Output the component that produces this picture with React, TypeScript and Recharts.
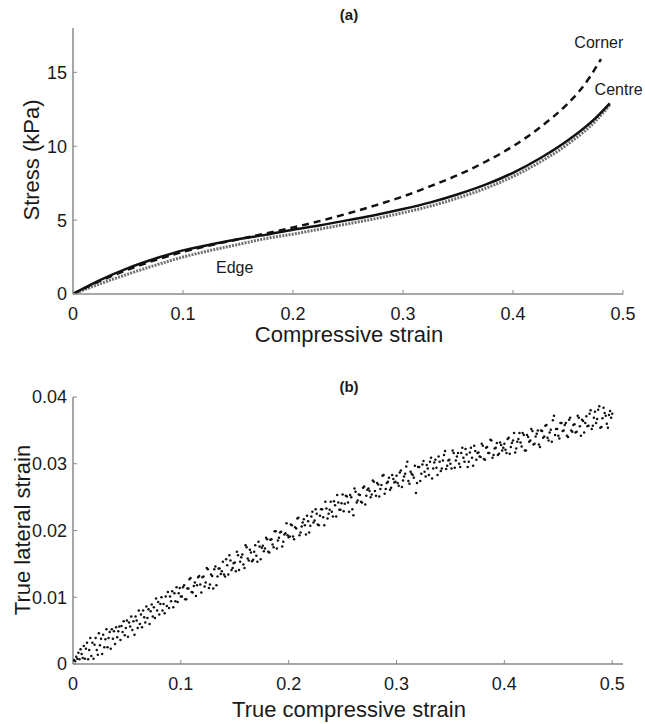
import React from 'react';
import {
  LineChart, Line, ScatterChart, Scatter, XAxis, YAxis, ReferenceDot,
} from 'recharts';

const FONT = '"Liberation Sans", Arial, Helvetica, sans-serif';

// (a) stress-strain curves
const strain = [0, 0.025, 0.05, 0.075, 0.1, 0.125, 0.15, 0.175, 0.2, 0.225, 0.25, 0.275, 0.3, 0.325, 0.35, 0.375, 0.4, 0.425, 0.45, 0.475, 0.488];
const centre = [0, 0.95, 1.75, 2.4, 2.95, 3.35, 3.7, 4.0, 4.35, 4.65, 5.0, 5.35, 5.75, 6.2, 6.75, 7.4, 8.2, 9.2, 10.4, 11.9, 12.9];
const edge = [0, 0.7, 1.35, 1.95, 2.5, 2.95, 3.35, 3.75, 4.05, 4.4, 4.75, 5.1, 5.5, 5.95, 6.5, 7.15, 7.95, 8.95, 10.15, 11.7, 12.8];
const cornerStrain = [0, 0.025, 0.05, 0.075, 0.1, 0.125, 0.15, 0.175, 0.2, 0.225, 0.25, 0.275, 0.3, 0.325, 0.35, 0.375, 0.4, 0.425, 0.45, 0.46, 0.47, 0.48];
const corner = [0, 0.9, 1.65, 2.3, 2.85, 3.3, 3.7, 4.1, 4.5, 4.95, 5.45, 6.0, 6.6, 7.3, 8.05, 8.95, 10.0, 11.3, 12.9, 13.7, 14.7, 15.9];

const xTicksA = [0, 0.1, 0.2, 0.3, 0.4, 0.5];
const yTicksA = [0, 5, 10, 15];

// (b) true compressive strain vs true lateral strain
const latA = [
  [0.001, 0.0006], [0.002, 0.0004], [0.003, 0.0011], [0.004, 0.0008], [0.005, 0.0017], [0.006, 0.0007], [0.007, 0.0022], [0.008, 0.0015], [0.009, 0.0009], [0.010, 0.0027],
  [0.011, 0.0008], [0.012, 0.0023], [0.013, 0.0032], [0.014, 0.0007], [0.015, 0.0021], [0.016, 0.0039], [0.017, 0.0012], [0.018, 0.0032], [0.019, 0.0008], [0.020, 0.0029],
  [0.021, 0.0039], [0.022, 0.0021], [0.023, 0.0014], [0.024, 0.0046], [0.025, 0.0028], [0.026, 0.0038], [0.027, 0.0015], [0.028, 0.0044], [0.029, 0.0025], [0.030, 0.0037],
  [0.031, 0.0052], [0.032, 0.0025], [0.033, 0.0039], [0.034, 0.0048], [0.035, 0.0023], [0.036, 0.0052], [0.037, 0.0038], [0.038, 0.0049], [0.039, 0.0030], [0.040, 0.0055],
  [0.041, 0.0040], [0.042, 0.0049], [0.043, 0.0056], [0.044, 0.0036], [0.045, 0.0057], [0.046, 0.0048], [0.047, 0.0064], [0.048, 0.0043], [0.049, 0.0054], [0.050, 0.0065],
  [0.051, 0.0041], [0.052, 0.0062], [0.053, 0.0056], [0.054, 0.0071], [0.055, 0.0051], [0.056, 0.0064], [0.057, 0.0044], [0.058, 0.0071], [0.059, 0.0065], [0.060, 0.0054],
  [0.061, 0.0080], [0.062, 0.0060], [0.063, 0.0074], [0.064, 0.0055], [0.065, 0.0080], [0.066, 0.0070], [0.067, 0.0062], [0.068, 0.0086], [0.069, 0.0069], [0.070, 0.0082],
  [0.071, 0.0060], [0.072, 0.0079], [0.073, 0.0089], [0.074, 0.0071], [0.075, 0.0085], [0.076, 0.0069], [0.077, 0.0098], [0.078, 0.0080], [0.079, 0.0093], [0.080, 0.0074],
  [0.081, 0.0090], [0.082, 0.0100], [0.083, 0.0080], [0.084, 0.0090], [0.085, 0.0076], [0.086, 0.0101], [0.087, 0.0087], [0.088, 0.0108], [0.089, 0.0084], [0.090, 0.0101],
  [0.091, 0.0094], [0.092, 0.0109], [0.093, 0.0085], [0.094, 0.0106], [0.095, 0.0094], [0.096, 0.0115], [0.097, 0.0093], [0.098, 0.0106], [0.099, 0.0114], [0.100, 0.0101],
];
const latB = [
  [0.102, 0.0115], [0.104, 0.0097], [0.106, 0.0113], [0.108, 0.0127], [0.110, 0.0108], [0.112, 0.0117], [0.114, 0.0102], [0.116, 0.0130], [0.118, 0.0119], [0.120, 0.0130],
  [0.122, 0.0116], [0.124, 0.0144], [0.126, 0.0114], [0.128, 0.0134], [0.130, 0.0113], [0.132, 0.0146], [0.134, 0.0131], [0.136, 0.0143], [0.138, 0.0139], [0.140, 0.0134],
  [0.142, 0.0157], [0.144, 0.0134], [0.146, 0.0155], [0.148, 0.0144], [0.150, 0.0152], [0.152, 0.0168], [0.154, 0.0141], [0.156, 0.0160], [0.158, 0.0149], [0.160, 0.0178],
  [0.162, 0.0158], [0.164, 0.0171], [0.166, 0.0154], [0.168, 0.0168], [0.170, 0.0162], [0.172, 0.0183], [0.174, 0.0157], [0.176, 0.0177], [0.178, 0.0173], [0.180, 0.0187],
  [0.182, 0.0167], [0.184, 0.0187], [0.186, 0.0175], [0.188, 0.0199], [0.190, 0.0185], [0.192, 0.0197], [0.194, 0.0176], [0.196, 0.0194], [0.198, 0.0211], [0.200, 0.0190],
  [0.101, 0.0101], [0.103, 0.0118], [0.105, 0.0097], [0.107, 0.0113], [0.109, 0.0129], [0.111, 0.0107], [0.113, 0.0122], [0.115, 0.0118], [0.117, 0.0132], [0.119, 0.0107],
  [0.121, 0.0131], [0.123, 0.0122], [0.125, 0.0142], [0.127, 0.0119], [0.129, 0.0132], [0.131, 0.0142], [0.133, 0.0118], [0.135, 0.0143], [0.137, 0.0135], [0.139, 0.0153],
  [0.141, 0.0131], [0.143, 0.0148], [0.145, 0.0163], [0.147, 0.0141], [0.149, 0.0151], [0.151, 0.0139], [0.153, 0.0163], [0.155, 0.0153], [0.157, 0.0164], [0.159, 0.0144],
  [0.161, 0.0175], [0.163, 0.0155], [0.165, 0.0167], [0.167, 0.0156], [0.169, 0.0178], [0.171, 0.0153], [0.173, 0.0176], [0.175, 0.0174], [0.177, 0.0169], [0.179, 0.0189],
  [0.181, 0.0168], [0.183, 0.0186], [0.185, 0.0179], [0.187, 0.0199], [0.189, 0.0173], [0.191, 0.0189], [0.193, 0.0198], [0.195, 0.0183], [0.197, 0.0196], [0.199, 0.0193],
];
const latC = [
  [0.202, 0.0209], [0.204, 0.0191], [0.206, 0.0205], [0.208, 0.0218], [0.210, 0.0193], [0.212, 0.0206], [0.214, 0.0217], [0.216, 0.0194], [0.218, 0.0214], [0.220, 0.0207],
  [0.222, 0.0228], [0.224, 0.0215], [0.226, 0.0225], [0.228, 0.0208], [0.230, 0.0232], [0.232, 0.0220], [0.234, 0.0243], [0.236, 0.0218], [0.238, 0.0231], [0.240, 0.0228],
  [0.242, 0.0244], [0.244, 0.0221], [0.246, 0.0242], [0.248, 0.0231], [0.250, 0.0254], [0.252, 0.0240], [0.254, 0.0251], [0.256, 0.0228], [0.258, 0.0250], [0.260, 0.0223],
  [0.262, 0.0258], [0.264, 0.0245], [0.266, 0.0253], [0.268, 0.0242], [0.270, 0.0266], [0.272, 0.0252], [0.274, 0.0263], [0.276, 0.0250], [0.278, 0.0275], [0.280, 0.0259],
  [0.282, 0.0271], [0.284, 0.0251], [0.286, 0.0268], [0.288, 0.0283], [0.290, 0.0262], [0.292, 0.0273], [0.294, 0.0261], [0.296, 0.0283], [0.298, 0.0272], [0.300, 0.0282],
  [0.201, 0.0191], [0.203, 0.0208], [0.205, 0.0187], [0.207, 0.0203], [0.209, 0.0219], [0.211, 0.0197], [0.213, 0.0212], [0.215, 0.0208], [0.217, 0.0222], [0.219, 0.0197],
  [0.221, 0.0221], [0.223, 0.0212], [0.225, 0.0232], [0.227, 0.0209], [0.229, 0.0222], [0.231, 0.0232], [0.233, 0.0208], [0.235, 0.0233], [0.237, 0.0225], [0.239, 0.0243],
  [0.241, 0.0221], [0.243, 0.0238], [0.245, 0.0253], [0.247, 0.0231], [0.249, 0.0241], [0.251, 0.0229], [0.253, 0.0252], [0.255, 0.0242], [0.257, 0.0253], [0.259, 0.0232],
  [0.261, 0.0263], [0.263, 0.0242], [0.265, 0.0254], [0.267, 0.0243], [0.269, 0.0264], [0.271, 0.0239], [0.273, 0.0261], [0.275, 0.0259], [0.277, 0.0254], [0.279, 0.0273],
  [0.281, 0.0252], [0.283, 0.0269], [0.285, 0.0262], [0.287, 0.0282], [0.289, 0.0255], [0.291, 0.0271], [0.293, 0.0279], [0.295, 0.0264], [0.297, 0.0277], [0.299, 0.0273],
];
const latD = [
  [0.302, 0.0267], [0.304, 0.0290], [0.306, 0.0275], [0.308, 0.0285], [0.310, 0.0303], [0.312, 0.0270], [0.314, 0.0285], [0.316, 0.0279], [0.318, 0.0256], [0.320, 0.0295],
  [0.322, 0.0274], [0.324, 0.0299], [0.326, 0.0288], [0.328, 0.0298], [0.330, 0.0283], [0.332, 0.0309], [0.334, 0.0293], [0.336, 0.0306], [0.338, 0.0283], [0.340, 0.0303],
  [0.342, 0.0293], [0.344, 0.0313], [0.346, 0.0292], [0.348, 0.0305], [0.350, 0.0300], [0.352, 0.0320], [0.354, 0.0294], [0.356, 0.0311], [0.358, 0.0300], [0.360, 0.0316],
  [0.362, 0.0309], [0.364, 0.0322], [0.366, 0.0295], [0.368, 0.0317], [0.370, 0.0309], [0.372, 0.0327], [0.374, 0.0306], [0.376, 0.0317], [0.378, 0.0310], [0.380, 0.0327],
  [0.382, 0.0306], [0.384, 0.0325], [0.386, 0.0316], [0.388, 0.0335], [0.390, 0.0313], [0.392, 0.0324], [0.394, 0.0313], [0.396, 0.0332], [0.398, 0.0320], [0.400, 0.0330],
  [0.301, 0.0271], [0.303, 0.0287], [0.305, 0.0265], [0.307, 0.0281], [0.309, 0.0296], [0.311, 0.0274], [0.313, 0.0288], [0.315, 0.0283], [0.317, 0.0297], [0.319, 0.0271],
  [0.321, 0.0295], [0.323, 0.0285], [0.325, 0.0304], [0.327, 0.0281], [0.329, 0.0293], [0.331, 0.0303], [0.333, 0.0278], [0.335, 0.0302], [0.337, 0.0294], [0.339, 0.0311],
  [0.341, 0.0289], [0.343, 0.0305], [0.345, 0.0319], [0.347, 0.0297], [0.349, 0.0306], [0.351, 0.0293], [0.353, 0.0316], [0.355, 0.0305], [0.357, 0.0316], [0.359, 0.0295],
  [0.361, 0.0324], [0.363, 0.0303], [0.365, 0.0314], [0.367, 0.0303], [0.369, 0.0324], [0.371, 0.0297], [0.373, 0.0319], [0.375, 0.0316], [0.377, 0.0311], [0.379, 0.0330],
  [0.381, 0.0307], [0.383, 0.0324], [0.385, 0.0316], [0.387, 0.0336], [0.389, 0.0309], [0.391, 0.0323], [0.393, 0.0331], [0.395, 0.0315], [0.397, 0.0328], [0.399, 0.0324],
];
const latE = [
  [0.402, 0.0316], [0.404, 0.0339], [0.406, 0.0325], [0.408, 0.0335], [0.410, 0.0317], [0.412, 0.0333], [0.414, 0.0346], [0.416, 0.0326], [0.418, 0.0343], [0.420, 0.0320],
  [0.422, 0.0340], [0.424, 0.0335], [0.426, 0.0349], [0.428, 0.0330], [0.430, 0.0345], [0.432, 0.0329], [0.434, 0.0350], [0.436, 0.0339], [0.438, 0.0357], [0.440, 0.0339],
  [0.442, 0.0347], [0.444, 0.0333], [0.446, 0.0372], [0.448, 0.0352], [0.450, 0.0342], [0.452, 0.0361], [0.454, 0.0349], [0.456, 0.0358], [0.458, 0.0342], [0.460, 0.0366],
  [0.462, 0.0350], [0.464, 0.0358], [0.466, 0.0347], [0.468, 0.0372], [0.470, 0.0356], [0.472, 0.0366], [0.474, 0.0347], [0.476, 0.0371], [0.478, 0.0357], [0.480, 0.0380],
  [0.482, 0.0357], [0.484, 0.0378], [0.486, 0.0367], [0.488, 0.0386], [0.490, 0.0355], [0.492, 0.0384], [0.494, 0.0372], [0.496, 0.0354], [0.498, 0.0379], [0.500, 0.0375],
  [0.401, 0.0321], [0.403, 0.0337], [0.405, 0.0315], [0.407, 0.0331], [0.409, 0.0346], [0.411, 0.0323], [0.413, 0.0337], [0.415, 0.0332], [0.417, 0.0346], [0.419, 0.0320],
  [0.421, 0.0343], [0.423, 0.0333], [0.425, 0.0352], [0.427, 0.0329], [0.429, 0.0341], [0.431, 0.0350], [0.433, 0.0325], [0.435, 0.0349], [0.437, 0.0341], [0.439, 0.0358],
  [0.441, 0.0335], [0.443, 0.0351], [0.445, 0.0365], [0.447, 0.0343], [0.449, 0.0352], [0.451, 0.0338], [0.453, 0.0361], [0.455, 0.0350], [0.457, 0.0361], [0.459, 0.0340],
  [0.461, 0.0369], [0.463, 0.0348], [0.465, 0.0359], [0.467, 0.0348], [0.469, 0.0369], [0.471, 0.0342], [0.473, 0.0364], [0.475, 0.0361], [0.477, 0.0356], [0.479, 0.0375],
  [0.481, 0.0352], [0.483, 0.0369], [0.485, 0.0361], [0.487, 0.0381], [0.489, 0.0354], [0.491, 0.0368], [0.493, 0.0376], [0.495, 0.0360], [0.497, 0.0373], [0.499, 0.0369],
];

const xTicksB = [0, 0.1, 0.2, 0.3, 0.4, 0.5];
const yTicksB = [0, 0.01, 0.02, 0.03, 0.04];

const centreData = strain.map((x, i) => ({ x, y: centre[i] }));
const edgeData = strain.map((x, i) => ({ x, y: edge[i] }));
const cornerData = cornerStrain.map((x, i) => ({ x, y: corner[i] }));
const scatterData = [...latA, ...latB, ...latC, ...latD, ...latE].map(([x, y]) => ({ x, y }));

const axisLine = { stroke: '#8a8a8a', strokeWidth: 1.5 };
const tickLine = { stroke: '#8a8a8a', strokeWidth: 1 };
const tickStyle = { fill: '#1a1a1a', fontSize: 18, fontFamily: FONT };

function Dot(props: any) {
  const { cx, cy } = props;
  if (cx == null || cy == null) return null;
  return <circle cx={cx} cy={cy} r={1.25} fill="#111" />;
}

function HText({ x, y, children, size, bold }: any) {
  return (
    <div style={{
      position: 'absolute', left: x - 200, top: y - 15, width: 400, height: 30, lineHeight: '30px',
      textAlign: 'center', fontSize: size, fontWeight: bold ? 700 : 400, color: '#1a1a1a', fontFamily: FONT,
    }}>{children}</div>
  );
}

function VText({ x, y, children, size }: any) {
  return (
    <div style={{
      position: 'absolute', left: x - 150, top: y - 15, width: 300, height: 30, lineHeight: '30px',
      textAlign: 'center', fontSize: size, color: '#1a1a1a', fontFamily: FONT, transform: 'rotate(-90deg)',
    }}>{children}</div>
  );
}

const annot = (value: string) => ({ value, position: 'center' as const, fontSize: 16, fill: '#1a1a1a', fontFamily: FONT });

export default function App() {
  return (
    <div style={{ position: 'absolute', left: 0, top: 0, width: 645, height: 724, background: '#fff', overflow: 'hidden' }}>
      <div style={{ position: 'absolute', left: 0, top: 0 }}>
        <LineChart width={645} height={340} margin={{ top: 28, right: 22, left: 33, bottom: 16 }}>
          <XAxis type="number" dataKey="x" domain={[0, 0.5]} ticks={xTicksA} axisLine={axisLine} tickLine={tickLine}
            tickSize={-4} tickMargin={17} tick={tickStyle} height={30} allowDataOverflow />
          <YAxis type="number" dataKey="y" domain={[0, 18]} ticks={yTicksA} axisLine={axisLine} tickLine={tickLine}
            tickSize={-4} tickMargin={10} tick={tickStyle} width={40} allowDataOverflow />
          <Line data={edgeData} dataKey="y" type="monotone" stroke="#707070" strokeWidth={3} strokeDasharray="2 1.2"
            dot={false} isAnimationActive={false} />
          <Line data={centreData} dataKey="y" type="monotone" stroke="#111" strokeWidth={2.5}
            dot={false} isAnimationActive={false} />
          <Line data={cornerData} dataKey="y" type="monotone" stroke="#111" strokeWidth={2.5} strokeDasharray="7 5"
            dot={false} isAnimationActive={false} />
          <ReferenceDot x={0.147} y={1.82} r={0} fill="none" stroke="none" label={annot('Edge')} />
          <ReferenceDot x={0.478} y={17.0} r={0} fill="none" stroke="none" label={annot('Corner')} />
          <ReferenceDot x={0.496} y={13.85} r={0} fill="none" stroke="none" label={annot('Centre')} />
        </LineChart>
      </div>
      <div style={{ position: 'absolute', left: 0, top: 340 }}>
        <ScatterChart width={645} height={384} margin={{ top: 57, right: 22, left: 33, bottom: 30 }}>
          <XAxis type="number" dataKey="x" domain={[0, 0.51]} ticks={xTicksB} axisLine={axisLine} tickLine={tickLine}
            tickSize={-4} tickMargin={17} tick={tickStyle} height={30} allowDataOverflow />
          <YAxis type="number" dataKey="y" domain={[0, 0.04]} ticks={yTicksB} axisLine={axisLine} tickLine={tickLine}
            tickSize={-4} tickMargin={10} tick={tickStyle} width={40} allowDataOverflow />
          <Scatter data={scatterData} shape={Dot} isAnimationActive={false} />
        </ScatterChart>
      </div>
      <HText x={349} y={15} size={15} bold>(a)</HText>
      <HText x={349} y={335} size={22}>Compressive strain</HText>
      <VText x={32} y={160} size={22}>Stress (kPa)</VText>
      <HText x={349} y={387} size={15} bold>(b)</HText>
      <HText x={349} y={710} size={22}>True compressive strain</HText>
      <VText x={23} y={530} size={22}>True lateral strain</VText>
    </div>
  );
}
